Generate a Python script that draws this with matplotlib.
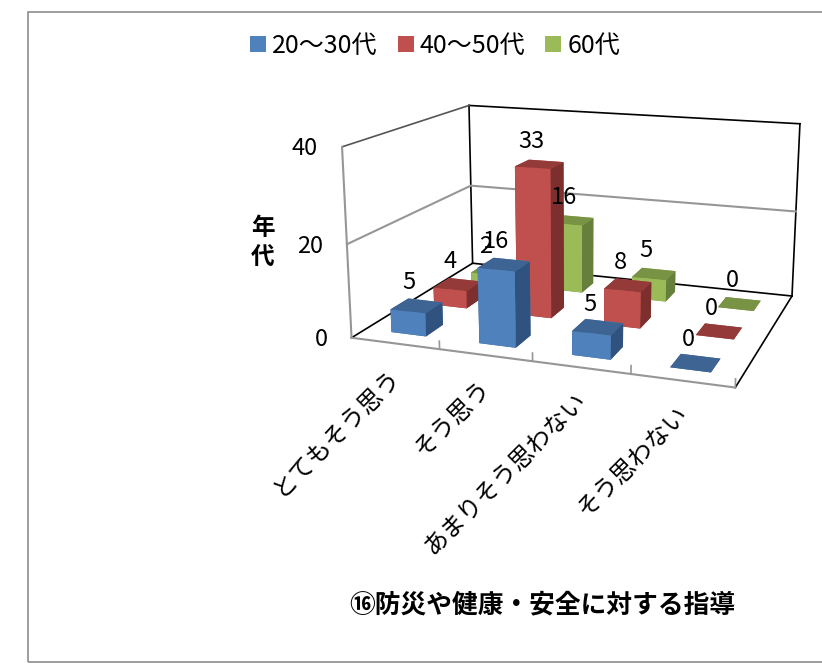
import numpy as np
import matplotlib
matplotlib.use('Agg')
import matplotlib.pyplot as plt
from matplotlib.patches import Rectangle, Patch
from matplotlib.transforms import offset_copy
from mpl_toolkits.mplot3d import proj3d

plt.rcParams['font.family'] = ['Noto Sans CJK JP', 'DejaVu Sans']

categories = ['とてもそう思う', 'そう思う', 'あまりそう思わない', 'そう思わない']
series_names = ['20〜30代', '40〜50代', '60代']
blue_values = [5, 16, 5, 0]
red_values = [4, 33, 8, 0]
green_values = [2, 16, 5, 0]
z_ticks = [0, 20, 40]
title = '⑯防災や健康・安全に対する指導'
z_title = '年\n代'

series = [blue_values, red_values, green_values]
# front, top and side colours of each series
front_colors = ['#4F81BD', '#C0504D', '#9BBB59']
top_colors = ['#3E6494', '#943B39', '#799344']
side_colors = ['#30527E', '#7D2F2D', '#667F3A']

W, H = 822, 664
fig = plt.figure(figsize=(W / 100, H / 100), dpi=100)
ax = fig.add_subplot(projection='3d', computed_zorder=False)
ax.set_xlim(0, 4, view_margin=0)
ax.set_ylim(0, 3, view_margin=0)
ax.set_zlim(0, 40, view_margin=0)
ax.set_xticks([])
ax.set_yticks([])
ax.set_zticks([])
ax.set_axis_off()

# Camera fitted to the corners of the box
ax.view_init(elev=14.253, azim=-70.3676, roll=-0.0545)
ax.set_proj_type('persp', focal_length=0.4505)
ax.set_box_aspect((2.0152, 1.4834, 1.0))
ax.set_position([332.77 / W, 186.12 / H, 488.63 / W, 488.63 / H])

def shifted(dx, dy):
    return offset_copy(ax.transData, fig=fig, x=dx, y=dy, units='dots')

# Walls
black = '#000000'
gray = '#969696'
ax.plot([0, 4], [3, 3], [40, 40], color=black, lw=1.2, zorder=1)
ax.plot([0, 4], [3, 3], [0, 0], color=black, lw=1.2, zorder=1)
ax.plot([0, 0], [3, 3], [0, 40], color=black, lw=1.2, zorder=1)
ax.plot([4, 4], [3, 3], [0, 40], color=black, lw=1.2, zorder=1)
ax.plot([0, 0], [0, 3], [0, 0], color=black, lw=1.2, zorder=1)
ax.plot([4, 4], [0, 3], [0, 0], color=black, lw=1.2, zorder=1)
ax.plot([0, 0], [0, 3], [40, 40], color='#555555', lw=1.2, zorder=1)
ax.plot([0, 0], [0, 0], [0, 40], color=gray, lw=1.5, zorder=1)
ax.plot([0, 4], [0, 0], [0, 0], color=gray, lw=1.5, zorder=1)
ax.plot([0, 0, 4], [0, 3, 3], [20, 20, 20], color=gray, lw=1.5, zorder=1)
for i in range(1, 5):
    ax.plot([i, i], [0, 0], [0, 1.7], color=gray, lw=1.2, zorder=1)

# Bars, back series first
order = 2
for s in [2, 1, 0]:
    for i, v in enumerate(series[s]):
        # bar3d face order: bottom, top, front, back, left, right
        colors = [top_colors[s], top_colors[s], front_colors[s],
                  front_colors[s], side_colors[s], side_colors[s]]
        ax.bar3d(i + 0.3, s + 0.3, 0, 0.4, 0.4, v, color=colors, shade=False,
                 edgecolor='none', zorder=order)
        order += 1

# Value labels
for s in range(3):
    for i, v in enumerate(series[s]):
        ax.text(i + 0.5, s + 0.5, v, str(v), fontsize=17, ha='center', va='center',
                color='black', zorder=50, transform=shifted(-7.5, 23))

# Value axis labels
for z in z_ticks:
    ax.text(0, 0, z, str(z), fontsize=17, ha='right', va='center', color='black',
            zorder=50, transform=shifted(-24, -2))

# Category labels, text3d ignores rotation so project the anchor by hand
for i, name in enumerate(categories):
    px, py, _ = proj3d.proj_transform(i + 0.5, 0, 0, ax.get_proj())
    ax.text2D(px, py, name, fontsize=17.5, rotation=45, rotation_mode='anchor',
              ha='right', va='top', color='black', zorder=50, transform=shifted(-8, -20))

fig.text(263 / W, 1 - 243 / H, z_title, fontsize=17, fontweight='bold', ha='center',
         va='center', linespacing=1.3)
fig.text(542 / W, 1 - 605 / H, title, fontsize=18.5, fontweight='bold', ha='center', va='center')

handles = [Patch(facecolor=c, edgecolor='none') for c in front_colors]
fig.legend(handles, series_names, loc='center', bbox_to_anchor=(435 / W, 1 - 46 / H),
           ncol=3, frameon=False, fontsize=18, handlelength=0.64, handleheight=0.64,
           handletextpad=0.24, columnspacing=0.8)

# Chart frame runs past the right edge
fig.add_artist(Rectangle((27.5 / W, 2.5 / H), 900 / W, 650 / H, fill=False, edgecolor='#8c8c8c',
                         lw=1.2, transform=fig.transFigure))

plt.savefig('out.png', dpi=100)
